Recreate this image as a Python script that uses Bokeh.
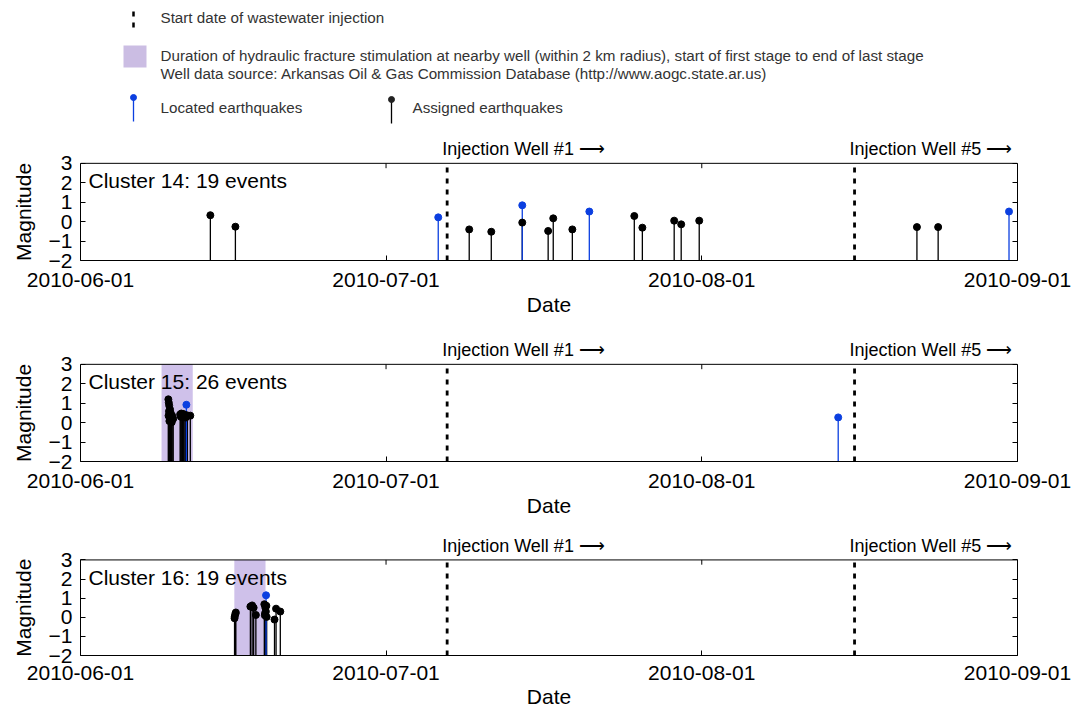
import pandas as pd
from bokeh.plotting import figure
from bokeh.layouts import column
from bokeh.models import (Range1d, Span, BoxAnnotation, Label, FixedTicker,
                          DatetimeTickFormatter, LinearAxis,
                          CustomJSTickFormatter, ColumnDataSource)
from bokeh.core.properties import value
from bokeh.embed import file_html
from bokeh.resources import INLINE

# ---------------- data ----------------
X_START = "2010-06-01"
X_END = "2010-09-01"
x_ticks = ["2010-06-01", "2010-07-01", "2010-08-01", "2010-09-01"]
y_ticks = [-2, -1, 0, 1, 2, 3]
MAG_BASE = -2

injection_dates = ["2010-07-07", "2010-08-16"]
injection_names = ["Injection Well #1", "Injection Well #5"]

# Cluster 14
c14_assigned_time = ["2010-06-13 18:00", "2010-06-16 05:00", "2010-07-09 04:00", "2010-07-11 08:00",
                     "2010-07-14 09:00", "2010-07-16 22:00", "2010-07-17 10:00", "2010-07-19 07:00",
                     "2010-07-25 09:00", "2010-07-26 04:00", "2010-07-29 07:00", "2010-07-29 23:30",
                     "2010-07-31 18:00", "2010-08-22 03:00", "2010-08-24 05:00"]
c14_assigned_mag = [0.33, -0.26, -0.40, -0.52, -0.05, -0.48, 0.17, -0.40,
                    0.29, -0.31, 0.05, -0.14, 0.05, -0.28, -0.28]
c14_located_time = ["2010-07-06 03:00", "2010-07-14 09:00", "2010-07-20 23:00", "2010-08-31 04:00"]
c14_located_mag = [0.22, 0.84, 0.52, 0.52]
c14_frac = None

# Cluster 15
c15_assigned_time = ["2010-06-09 15:00", "2010-06-09 16:00", "2010-06-09 17:00", "2010-06-09 19:00",
                     "2010-06-09 16:30", "2010-06-09 20:30", "2010-06-09 15:30", "2010-06-09 18:00",
                     "2010-06-09 21:30", "2010-06-09 17:30", "2010-06-10 00:00", "2010-06-10 02:30",
                     "2010-06-09 23:00", "2010-06-09 19:30", "2010-06-10 18:45", "2010-06-10 21:30",
                     "2010-06-11 00:30", "2010-06-11 03:30", "2010-06-11 06:00", "2010-06-11 07:45",
                     "2010-06-11 12:00", "2010-06-11 18:45", "2010-06-10 20:30", "2010-06-11 02:00"]
c15_assigned_mag = [1.20, 1.03, 0.88, 0.68, 0.58, 0.50, 0.36, 0.25, 0.15, 0.08, 0.35, 0.20,
                    0.02, 0.45, 0.42, 0.47, 0.35, 0.30, 0.40, 0.26, 0.37, 0.36, 0.30, 0.45]
c15_located_time = ["2010-06-11 09:30", "2010-08-14 09:30"]
c15_located_mag = [0.92, 0.27]
c15_frac = ("2010-06-08 23:00", "2010-06-12 00:30")

# Cluster 16
c16_assigned_time = ["2010-06-16 03:30", "2010-06-16 05:00", "2010-06-16 06:00", "2010-06-16 03:00",
                     "2010-06-17 16:20", "2010-06-17 20:25", "2010-06-18 00:00", "2010-06-18 05:15",
                     "2010-06-19 01:10", "2010-06-19 03:35", "2010-06-19 04:50", "2010-06-19 02:25",
                     "2010-06-19 06:40", "2010-06-19 06:00", "2010-06-20 01:10", "2010-06-20 04:50",
                     "2010-06-20 14:50", "2010-06-19 02:50"]
c16_assigned_mag = [0.05, 0.18, 0.25, -0.05, 0.56, 0.62, 0.50, 0.12, 0.68, 0.50, 0.30, 0.10,
                    0.02, 0.60, -0.12, 0.45, 0.30, 0.20]
c16_located_time = ["2010-06-19 05:15"]
c16_located_mag = [1.15]
c16_frac = ("2010-06-16 02:30", "2010-06-19 04:00")

clusters = [
    (14, c14_assigned_time, c14_assigned_mag, c14_located_time, c14_located_mag, c14_frac),
    (15, c15_assigned_time, c15_assigned_mag, c15_located_time, c15_located_mag, c15_frac),
    (16, c16_assigned_time, c16_assigned_mag, c16_located_time, c16_located_mag, c16_frac),
]

# ---------------- style ----------------
FONT = "Liberation Sans"
BLUE = "#0b3fe0"
BLACK = "#000000"
LAVENDER = "#cfc1ea"
W = 1085
BL, BR = 80, 68
YTOP = 4.33          # headroom above the magnitude box for the well labels
LABEL_Y = 3.72       # well label position (in headroom)
TOP_TICK = 0.25      # inward tick length on the top edge (data units)
FRAME_H = 123


def ms(s):
    return pd.Timestamp(s).value / 1e6


def make_panel(cid, at, am, lt, lm, frac, xr, top, bottom, tick_so, lab_so):
    ylo, yhi = y_ticks[0], y_ticks[-1]
    p = figure(width=W, height=top + FRAME_H + bottom, x_axis_type="datetime",
               x_range=xr, y_range=Range1d(ylo, YTOP),
               output_backend="svg", toolbar_location=None,
               min_border_left=BL, min_border_right=BR, min_border_top=top, min_border_bottom=bottom)
    p.grid.grid_line_color = None
    p.outline_line_color = None

    fmt = "%Y-%m-%d"
    p.xaxis.ticker = FixedTicker(ticks=[ms(t) for t in x_ticks])
    p.xaxis.formatter = DatetimeTickFormatter(days=fmt, months=fmt, years=fmt, hours=fmt, hourmin=fmt)
    p.xaxis.axis_label = "Date"
    p.yaxis.ticker = FixedTicker(ticks=y_ticks)
    p.yaxis.bounds = (ylo, yhi)
    p.yaxis.major_label_overrides = {-2: "\u22122", -1: "\u22121"}
    for ax in (p.xaxis[0], p.yaxis[0]):
        ax.major_tick_in = 5
        ax.major_tick_out = 0
        ax.minor_tick_line_color = None
        ax.axis_line_color = "black"
        ax.major_tick_line_color = "black"
        ax.major_label_text_font = FONT
        ax.major_label_text_font_size = "21px"
        ax.major_label_text_color = "black"
        ax.axis_label_text_font = FONT
        ax.axis_label_text_font_size = "21px"
        ax.axis_label_text_font_style = "normal"
        ax.axis_label_text_color = "black"
    p.xaxis.major_label_standoff = tick_so
    p.xaxis.axis_label_standoff = lab_so
    p.yaxis.major_label_standoff = 8

    # "Magnitude" label centred on the magnitude box
    lab = LinearAxis(ticker=FixedTicker(ticks=[(ylo + yhi) / 2]),
                     formatter=CustomJSTickFormatter(code="return 'Magnitude'"),
                     major_label_orientation="vertical", major_tick_line_color=None,
                     minor_tick_line_color=None, axis_line_color=None,
                     major_label_standoff=4, major_label_text_font=FONT,
                     major_label_text_font_size="21px", major_label_text_color="black")
    p.add_layout(lab, "left")

    ra = LinearAxis(ticker=FixedTicker(ticks=y_ticks), bounds=(ylo, yhi),
                    formatter=CustomJSTickFormatter(code="return ''"),
                    major_tick_in=5, major_tick_out=0, minor_tick_line_color=None,
                    axis_line_color="black", major_label_text_font_size="1px", major_label_standoff=0)
    p.add_layout(ra, "right")
    p.add_layout(Span(location=yhi, dimension="width", line_color="black", line_width=1))
    p.segment(x0=[ms(t) for t in x_ticks], y0=[yhi] * len(x_ticks),
              x1=[ms(t) for t in x_ticks], y1=[yhi - TOP_TICK] * len(x_ticks),
              line_color="black", line_width=1)

    if frac is not None:
        p.add_layout(BoxAnnotation(left=ms(frac[0]), right=ms(frac[1]), top=yhi, bottom=ylo,
                                   fill_color=LAVENDER, fill_alpha=1, line_color=None, level="underlay"))

    inj = [ms(d) for d in injection_dates]
    p.segment(x0=inj, y0=[ylo] * len(inj), x1=inj, y1=[yhi] * len(inj),
              line_color="black", line_width=2.8, line_dash="5 6")
    p.text(x=inj, y=[LABEL_Y] * len(inj), text=[n + " \u27f6" for n in injection_names], x_offset=-5,
           text_font=value(FONT), text_font_size="18px", text_baseline="middle",
           text_align="left", text_color="black")

    src_a = ColumnDataSource(dict(t=pd.to_datetime(at), m=am, b=[MAG_BASE] * len(am)))
    src_l = ColumnDataSource(dict(t=pd.to_datetime(lt), m=lm, b=[MAG_BASE] * len(lm)))
    p.segment(x0="t", y0="b", x1="t", y1="m", source=src_a, line_color=BLACK, line_width=1.3)
    p.segment(x0="t", y0="b", x1="t", y1="m", source=src_l, line_color=BLUE, line_width=1.3)
    p.scatter(x="t", y="m", source=src_a, size=7, fill_color=BLACK, line_color=BLACK)
    p.scatter(x="t", y="m", source=src_l, size=7, fill_color=BLUE, line_color=BLUE)

    n = len(am) + len(lm)
    p.add_layout(Label(x=ms(X_START), y=2.1, x_offset=8, text=f"Cluster {cid}: {n} events",
                       text_font=FONT, text_font_size="21px", text_baseline="middle",
                       text_color="black"))
    return p


# ---------------- legend (page pixel coordinates) ----------------
LH = 135
leg = figure(width=W, height=LH, x_range=Range1d(BL, 1017), y_range=Range1d(LH, 0),
             output_backend="svg", toolbar_location=None,
             min_border_left=BL, min_border_right=BR, min_border_top=0, min_border_bottom=0,
             x_axis_location=None, y_axis_location=None)
leg.outline_line_color = None
leg.grid.grid_line_color = None
TXT = "#333333"
LFS = "15.2px"
leg.segment(x0=[133], y0=[11], x1=[133], y1=[27], line_color="black", line_width=2.5, line_dash="5 6")
leg.text(x=[160], y=[17], text=["Start date of wastewater injection"], text_font=value(FONT),
         text_font_size=LFS, text_baseline="middle", text_color=TXT)
leg.quad(left=[123], right=[146], top=[45], bottom=[67], fill_color="#cbbde3", line_color=None)
leg.text(x=[160, 160], y=[55, 73],
         text=["Duration of hydraulic fracture stimulation at nearby well (within 2 km radius), start of first stage to end of last stage",
               "Well data source: Arkansas Oil & Gas Commission Database (http://www.aogc.state.ar.us)"],
         text_font=value(FONT), text_font_size=LFS, text_baseline="middle", text_color=TXT)
leg.segment(x0=[133], y0=[97], x1=[133], y1=[121], line_color=BLUE, line_width=1.3)
leg.scatter(x=[133], y=[97], size=6, fill_color=BLUE, line_color=BLUE)
leg.text(x=[160], y=[107], text=["Located earthquakes"], text_font=value(FONT),
         text_font_size=LFS, text_baseline="middle", text_color=TXT)
leg.segment(x0=[391], y0=[99], x1=[391], y1=[123], line_color=BLACK, line_width=1.3)
leg.scatter(x=[391], y=[99], size=6, fill_color="#222222", line_color="#222222")
leg.text(x=[412], y=[107], text=["Assigned earthquakes"], text_font=value(FONT),
         text_font_size=LFS, text_baseline="middle", text_color=TXT)

xr = Range1d(ms(X_START), ms(X_END))
settings = [(76, 12, 3), (71, 12, 3), (53, 10, 2)]
children = [leg]
for c, (b, tso, lso) in zip(clusters, settings):
    children.append(make_panel(*c, xr=xr, top=2, bottom=b, tick_so=tso, lab_so=lso))

layout = column(*children, spacing=0)
open("out.html", "w").write(file_html(layout, INLINE))
